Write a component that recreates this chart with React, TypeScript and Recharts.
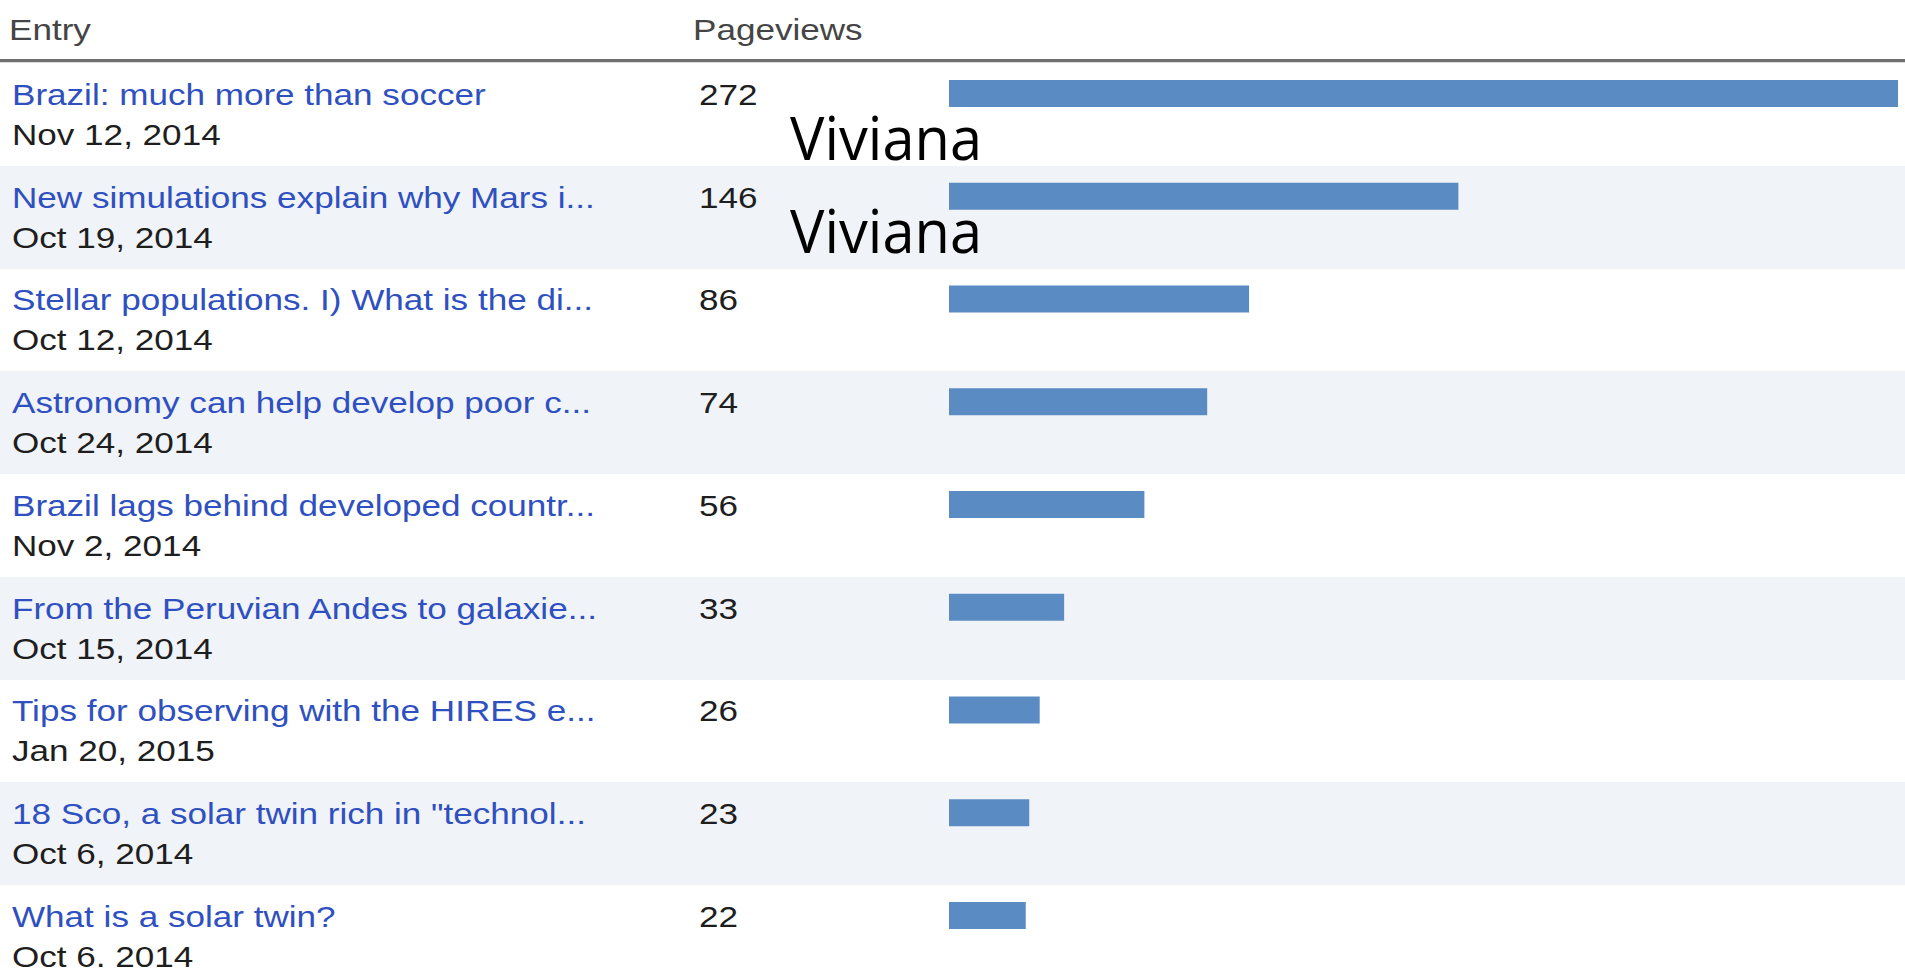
import React from "react";
import { BarChart, Bar, XAxis, YAxis, CartesianGrid, Customized } from "recharts";

const titles = [
  "Brazil: much more than soccer",
  "New simulations explain why Mars i...",
  "Stellar populations. I) What is the di...",
  "Astronomy can help develop poor c...",
  "Brazil lags behind developed countr...",
  "From the Peruvian Andes to galaxie...",
  "Tips for observing with the HIRES e...",
  "18 Sco, a solar twin rich in \"technol...",
  "What is a solar twin?",
];
const dates = [
  "Nov 12, 2014",
  "Oct 19, 2014",
  "Oct 12, 2014",
  "Oct 24, 2014",
  "Nov 2, 2014",
  "Oct 15, 2014",
  "Jan 20, 2015",
  "Oct 6, 2014",
  "Oct 6, 2014",
];
const pageviews = [272, 146, 86, 74, 56, 33, 26, 23, 22];
const headers = ["Entry", "Pageviews"];
const watermarks = ["Viviana", "Viviana"];

const data = titles.map((t, i) => ({ title: t, date: dates[i], views: pageviews[i] }));

const W = 1905;
const H = 974;
const ROW_H = 102.75;
const MARGIN_TOP = 42;
const BAND_SHIFT = 21;
const AXIS_W = 949;
const FONT = "'Liberation Sans', Arial, Helvetica, sans-serif";
const FS = 30;
const STRETCH = 1.17;

const stripePoints = titles.map((_, i) => MARGIN_TOP + BAND_SHIFT + i * ROW_H);

const EntryTick = (props: any) => {
  const { y, payload } = props;
  const i = payload.index;
  const d = data[i];
  return (
    <g>
      <text
        transform={`translate(12, ${y + 11.5}) scale(${STRETCH} 1)`}
        fontFamily={FONT}
        fontSize={FS}
        fill="#2f50c0"
      >
        {d.title}
      </text>
      <text
        transform={`translate(12, ${y + 51.5}) scale(${STRETCH} 1)`}
        fontFamily={FONT}
        fontSize={FS}
        fill="#1e1e1e"
      >
        {d.date}
      </text>
      <text
        transform={`translate(699, ${y + 11.5}) scale(${STRETCH} 1)`}
        fontFamily={FONT}
        fontSize={FS}
        fill="#1e1e1e"
      >
        {String(d.views)}
      </text>
    </g>
  );
};

const Overlay = () => (
  <g>
    <rect x={0} y={59} width={W} height={3} fill="#6f6f6f" />
    <rect x={0} y={62} width={W} height={1} fill="#dcdcdc" />
    <text transform={`translate(9, 40) scale(${STRETCH} 1)`} fontFamily={FONT} fontSize={FS} fill="#454545">
      {headers[0]}
    </text>
    <text transform={`translate(693, 40) scale(${STRETCH} 1)`} fontFamily={FONT} fontSize={FS} fill="#454545">
      {headers[1]}
    </text>
    <text x={790} y={160} fontFamily="'Open Sans', 'Noto Sans', sans-serif" fontSize={60} fill="#000" textLength={192} lengthAdjust="spacingAndGlyphs">
      {watermarks[0]}
    </text>
    <text x={790} y={253} fontFamily="'Open Sans', 'Noto Sans', sans-serif" fontSize={60} fill="#000" textLength={192} lengthAdjust="spacingAndGlyphs">
      {watermarks[1]}
    </text>
  </g>
);

export default function App() {
  return (
    <div style={{ position: "absolute", left: 0, top: 0, width: W, height: H, overflow: "hidden", background: "#fff" }}>
      <BarChart
        width={W}
        height={MARGIN_TOP + ROW_H * titles.length}
        data={data}
        layout="vertical"
        margin={{ top: MARGIN_TOP, right: 0, bottom: 0, left: 0 }}
        barCategoryGap={0}
      >
        <CartesianGrid
          x={0}
          y={MARGIN_TOP + BAND_SHIFT}
          width={W}
          height={ROW_H * titles.length}
          horizontal={true}
          vertical={false}
          stroke="none"
          horizontalPoints={stripePoints}
          horizontalFill={["#ffffff", "#f0f3f8"]}
        />
        <XAxis type="number" domain={[0, 274]} hide />
        <YAxis
          type="category"
          dataKey="title"
          width={AXIS_W}
          axisLine={false}
          tickLine={false}
          interval={0}
          tick={<EntryTick />}
        />
        <Bar dataKey="views" fill="#5a8cc3" barSize={27} isAnimationActive={false} />
        <Customized component={Overlay} />
      </BarChart>
    </div>
  );
}
